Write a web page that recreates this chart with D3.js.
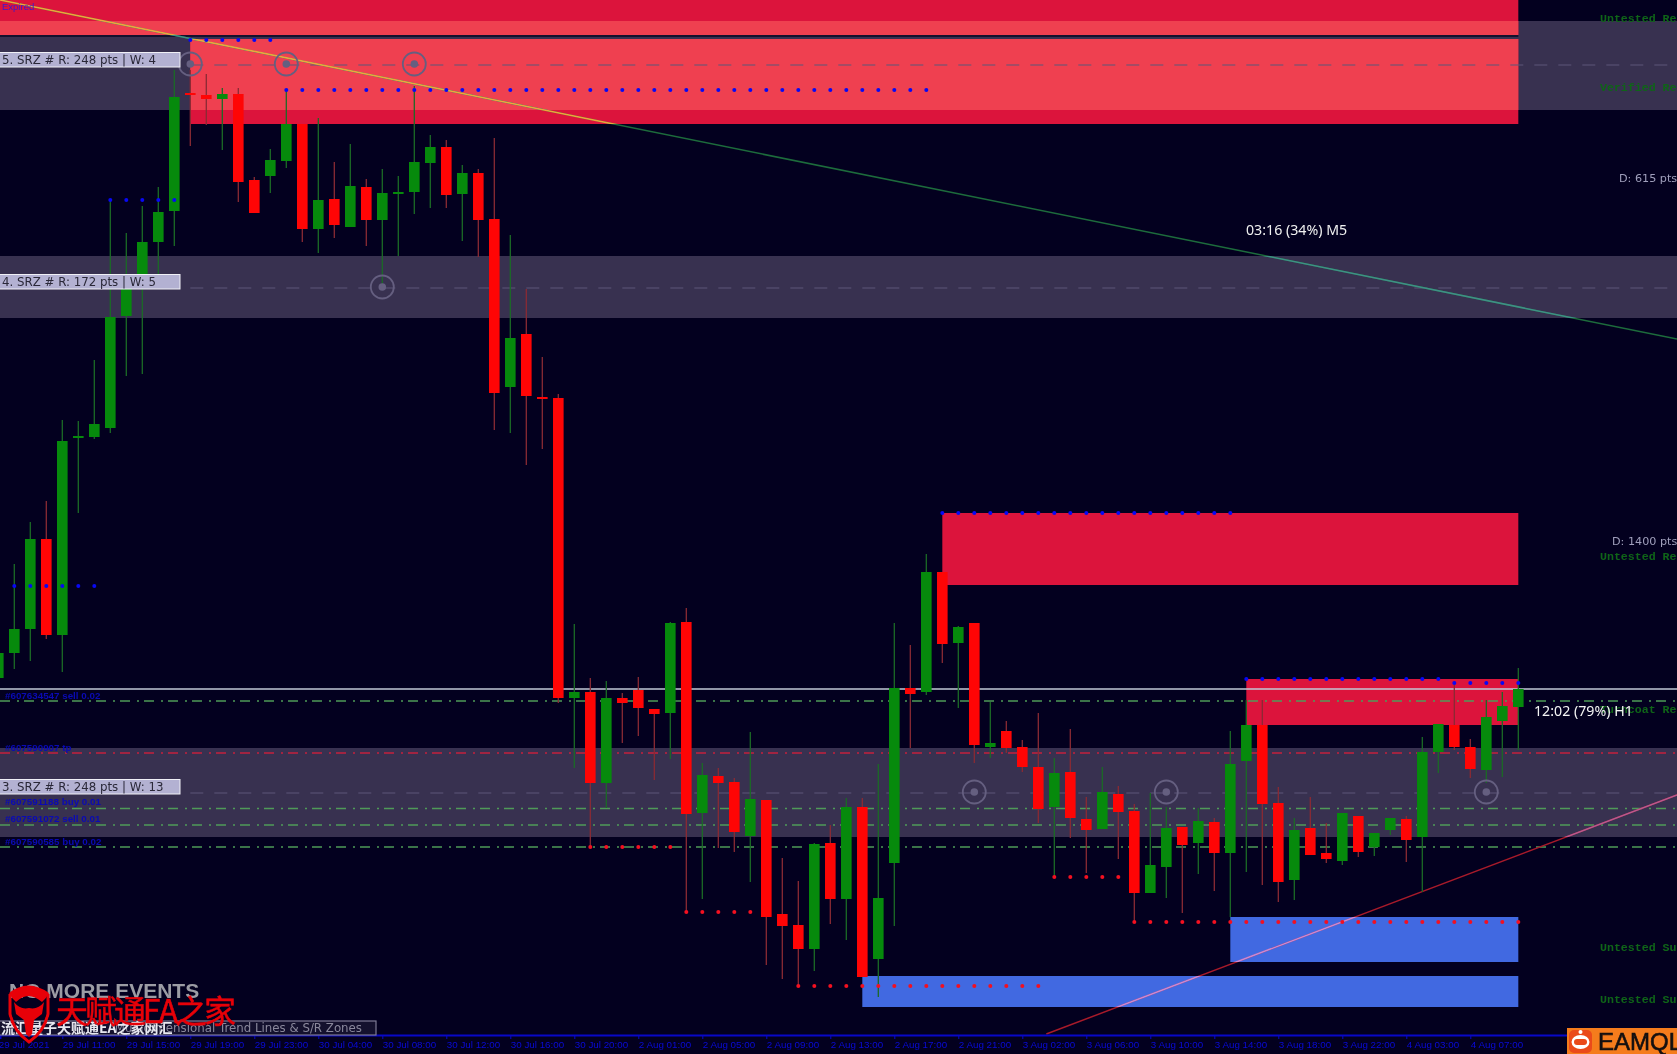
<!DOCTYPE html>
<html>
<head>
<meta charset="utf-8">
<title>XAUUSD H1 zones</title>
<script src="https://cdn.jsdelivr.net/npm/d3@7/dist/d3.min.js"></script>
<style>
html,body{margin:0;padding:0;background:#03001f;overflow:hidden}
svg{display:block;filter:blur(0.55px)}
</style>
</head>
<body>
<svg id="chart" width="1677" height="1054"></svg>
<script>
// ---- Candle data (chart levels) ----
const open  = [422,447,471,561,465,662,663,672,784,820,858,889,1007,1005,1001,1006,920,924,939,976,871,901,873,913,880,906,908,937,953,906,927,881,713,766,703,702,402,408,317,402,410,391,387,478,287,324,318,264,300,186,175,151,257,201,293,141,237,412,408,528,457,477,353,369,353,333,293,328,281,271,306,289,207,233,273,257,278,247,339,375,297,220,272,247,239,284,253,270,281,263,348,375,353,330,379,393];
const high  = [448,536,578,599,680,679,740,900,867,894,913,1030,1030,1026,1012,1012,923,951,1010,976,982,938,956,921,931,924,1014,965,960,935,931,962,865,811,743,706,476,422,419,407,423,391,478,492,337,332,322,368,300,242,219,257,275,302,302,336,477,455,546,528,474,477,398,379,360,387,342,371,303,333,314,296,307,293,273,292,282,369,400,400,313,282,303,277,287,284,267,282,284,363,376,415,361,400,408,432];
const low   = [421,431,439,461,428,587,661,667,724,726,825,854,954,975,950,898,887,907,932,858,847,862,873,854,813,844,886,892,892,859,843,670,667,635,651,397,332,253,292,357,364,320,341,188,201,252,248,218,135,121,114,129,176,160,123,103,174,352,405,437,392,337,342,347,328,277,223,262,227,271,241,178,207,202,187,226,209,183,228,215,198,200,245,237,235,243,244,265,238,208,327,350,322,317,323,350];
const close = [447,471,561,465,659,664,676,783,811,858,888,1003,1005,1001,1006,918,887,940,976,871,900,875,914,880,907,908,938,953,905,927,880,707,762,704,701,402,408,317,402,397,392,386,477,286,325,317,268,301,183,174,151,256,201,293,123,202,412,406,528,456,473,355,357,352,333,291,327,282,270,308,288,207,235,272,255,279,247,336,375,296,218,270,245,241,287,248,267,282,260,348,376,353,331,383,394,411];

// ---- Zones: level ranges and the candle index they start from ----
const greyLow   = [990,782,263];
const greyHigh  = [1079,844,352];
const redLow    = [1065,976,515,375];
const redHigh   = [1110,1061,587,421];
const redStart  = [-5,12,59,78];
const blueLow   = [138,93];
const blueHigh  = [183,124];
const blueStart = [77,54];
const zoneEnd   = 95;
const seamLevel = 1064;

// ---- Horizontal levels ----
const centreLevels = [1035,812,307];
const priceLevel   = 411;
const orderLevels  = [399,347,291.5,275,253];
const orderColours = ["#4f9a58","#c4203c","#4f9a58","#4f9a58","#4f9a58"];
const orderTexts   = ["#607634547 sell 0.02","#607590907 tp","#607591188 buy 0.01","#607591072 sell 0.01","#607590585 buy 0.02"];
const orderTextLevels = [401,349,295,278,255];

// ---- Dotted rows: first candle, last candle, level ----
const blueDotFrom  = [12,18,7,1,59,78,91];
const blueDotTo    = [17,58,11,6,77,90,95];
const blueDotLevel = [1060,1010,900,514,587,421,417];
const redDotFrom   = [37,43,50,66,71];
const redDotTo     = [42,47,65,70,95];
const redDotLevel  = [253,188,114,223,178];

// ---- Touch markers ----
const markerIdx   = [12,18,26,24,61,73,93];
const markerLevel = [1036,1036,1036,813,308,308,308];

// ---- Trend lines [idx, level] ----
const downTrend = [[0.106,1100],[104.918,761]];
const upTrend   = [[65.5,66],[104.918,305]];

// ---- Axis ----
const axisLevel = 65;
const tickIdx = d3.range(0,96,4);
const tickLabels = ["29 Jul 2021","29 Jul 11:00","29 Jul 15:00","29 Jul 19:00","29 Jul 23:00","30 Jul 04:00","30 Jul 08:00","30 Jul 12:00","30 Jul 16:00","30 Jul 20:00","2 Aug 01:00","2 Aug 05:00","2 Aug 09:00","2 Aug 13:00","2 Aug 17:00","2 Aug 21:00","3 Aug 02:00","3 Aug 06:00","3 Aug 10:00","3 Aug 14:00","3 Aug 18:00","3 Aug 22:00","4 Aug 03:00","4 Aug 07:00"];

// ---- Text labels ----
const srzLabels = ["5. SRZ # R: 248 pts | W: 4","4. SRZ # R: 172 pts | W: 5","3. SRZ # R: 248 pts | W: 13"];
const srzLevels = [1040,818,313];
const zoneNames = ["Untested Res","Verified Res","Untested Res","Turncoat Res","Untested Sup","Untested Sup"];
const zoneNameLevels = [1078,1009,540,387,149,97];
const distTexts = ["D: 615 pts","D: 1400 pts"];
const distLevels = [918,555];

const W = 1677, H = 1054;
const x = d3.scaleLinear().domain([0.106,104.918]).range([0,W]);
const y = d3.scaleLinear().domain([46,1100]).range([H,0]);
const svg = d3.select("#chart");
const defs = svg.append("defs");
const BG = "#03001f";
svg.append("rect").attr("width",W).attr("height",H).attr("fill",BG);

// zones
const greys = greyLow.map((l,i)=>({l,h:greyHigh[i]}));
const reds  = redLow.map((l,i)=>({l,h:redHigh[i],s:redStart[i]}));
const blues = blueLow.map((l,i)=>({l,h:blueHigh[i],s:blueStart[i]}));
const zx = s => Math.max(0,x(s));
svg.append("g").selectAll("rect").data(greys).join("rect")
  .attr("x",0).attr("width",W).attr("y",d=>y(d.h)).attr("height",d=>y(d.l)-y(d.h)).attr("fill","#383150");
svg.append("g").selectAll("rect").data(reds).join("rect")
  .attr("x",d=>zx(d.s)).attr("width",d=>x(zoneEnd)-zx(d.s)).attr("y",d=>y(d.h)).attr("height",d=>y(d.l)-y(d.h)).attr("fill","#dc143c");
svg.append("g").selectAll("rect").data(blues).join("rect")
  .attr("x",d=>zx(d.s)).attr("width",d=>x(zoneEnd)-zx(d.s)).attr("y",d=>y(d.h)).attr("height",d=>y(d.l)-y(d.h)).attr("fill","#4169e1");
// where a red zone and a grey zone meet, the colours combine
const overlaps = [];
reds.forEach(r=>greys.forEach(g=>{
  const h=Math.min(r.h,g.h), l=Math.max(r.l,g.l);
  if(h>l) overlaps.push({s:r.s,h,l});
}));
svg.append("g").selectAll("rect").data(overlaps).join("rect")
  .attr("x",d=>zx(d.s)).attr("width",d=>x(zoneEnd)-zx(d.s)).attr("y",d=>y(d.h)).attr("height",d=>y(d.l)-y(d.h)).attr("fill","#ef4050");
svg.append("line").attr("x1",0).attr("x2",x(zoneEnd)).attr("y1",y(seamLevel)).attr("y2",y(seamLevel))
  .attr("stroke","#14112e").attr("stroke-width",2);

// trend lines with colour change over the zones
const line = d3.line().x(d=>x(d[0])).y(d=>y(d[1]));
const clipRed = defs.append("clipPath").attr("id","clipRed");
reds.forEach(d=>clipRed.append("rect").attr("x",zx(d.s)).attr("width",x(zoneEnd)-zx(d.s)).attr("y",y(d.h)).attr("height",y(d.l)-y(d.h)));
const clipBlue = defs.append("clipPath").attr("id","clipBlue");
blues.forEach(d=>clipBlue.append("rect").attr("x",zx(d.s)).attr("width",x(zoneEnd)-zx(d.s)).attr("y",y(d.h)).attr("height",y(d.l)-y(d.h)));
const clipGrey = defs.append("clipPath").attr("id","clipGrey");
greys.forEach(d=>clipGrey.append("rect").attr("x",0).attr("width",W).attr("y",y(d.h)).attr("height",y(d.l)-y(d.h)));
function trend(pts,base,onGrey,onZone,clip){
  svg.append("path").attr("d",line(pts)).attr("stroke",base).attr("stroke-width",1.5).attr("fill","none");
  svg.append("path").attr("d",line(pts)).attr("stroke",onGrey).attr("stroke-width",1.5).attr("fill","none").attr("clip-path","url(#clipGrey)");
  svg.append("path").attr("d",line(pts)).attr("stroke",onZone).attr("stroke-width",1.6).attr("fill","none").attr("clip-path",`url(#${clip})`);
}

// centre dashes, price line, order lines
svg.append("g").selectAll("line").data(centreLevels).join("line")
  .attr("x1",x(12)).attr("x2",W).attr("y1",d=>y(d)).attr("y2",d=>y(d))
  .attr("stroke","#5c5678").attr("stroke-width",1.2).attr("stroke-dasharray","13 11");
svg.append("line").attr("x1",0).attr("x2",W).attr("y1",y(priceLevel)).attr("y2",y(priceLevel))
  .attr("stroke","#c2c8d6").attr("stroke-width",1.5);
svg.append("g").selectAll("line").data(orderLevels).join("line")
  .attr("x1",0).attr("x2",W).attr("y1",d=>y(d)).attr("y2",d=>y(d))
  .attr("stroke",(d,i)=>orderColours[i]).attr("stroke-width",1.4).attr("stroke-dasharray","10 7 2 5");

trend(downTrend,"#1d6b3c","#3f8f86","#f0a43c","clipRed");
trend(upTrend,"#a81a2a","#b85a90","#c58ad8","clipBlue");

// candles
const candles = open.map((o,i)=>({i,o,h:high[i],l:low[i],c:close[i],up:close[i]>=o}));
const cg = svg.append("g");
cg.selectAll("line").data(candles).join("line")
  .attr("x1",d=>x(d.i)).attr("x2",d=>x(d.i)).attr("y1",d=>y(d.h)).attr("y2",d=>y(d.l))
  .attr("stroke",d=>d.up?"#1c6a26":"#8a2a34").attr("stroke-width",1.3);
cg.selectAll("rect").data(candles).join("rect")
  .attr("x",d=>x(d.i)-5.3).attr("width",10.6)
  .attr("y",d=>y(Math.max(d.o,d.c))).attr("height",d=>Math.max(2,Math.abs(y(d.o)-y(d.c))))
  .attr("fill",d=>d.up?"#068a0c":"#ff0505");

// dotted rows
function dots(from,to,lev,colour){
  const pts=[];
  from.forEach((f,k)=>d3.range(f,to[k]+1).forEach(i=>pts.push([i,lev[k]])));
  svg.append("g").selectAll("circle").data(pts).join("circle")
    .attr("cx",d=>x(d[0])).attr("cy",d=>y(d[1])).attr("r",2).attr("fill",colour);
}
dots(blueDotFrom,blueDotTo,blueDotLevel,"#0808f4");
dots(redDotFrom,redDotTo,redDotLevel,"#f41020");

// markers
const mk = svg.append("g").selectAll("g").data(markerIdx).join("g")
  .attr("transform",(d,i)=>`translate(${x(d)},${y(markerLevel[i])})`);
mk.append("circle").attr("r",11.5).attr("fill","none").attr("stroke","#655f80").attr("stroke-width",1.8);
mk.append("circle").attr("r",3.8).attr("fill","#655f80");

// SRZ labels
const srz = svg.append("g").selectAll("g").data(srzLabels).join("g")
  .attr("transform",(d,i)=>`translate(0,${y(srzLevels[i])})`);
srz.append("rect").attr("x",-2).attr("y",-7.5).attr("width",182).attr("height",14.5)
  .attr("fill","#b3b1d2").attr("stroke","#f0f0f6").attr("stroke-width",1);
srz.append("text").text(d=>d).attr("x",2).attr("y",4)
  .attr("font-family","DejaVu Sans").attr("font-size",11.8).attr("fill","#2a2838");

// zone names and distances
svg.append("g").selectAll("text").data(zoneNames).join("text").text(d=>d)
  .attr("x",1600).attr("y",(d,i)=>y(zoneNameLevels[i]))
  .attr("font-family","Liberation Mono").attr("font-weight","bold").attr("font-size",11.6).attr("fill","#0f6418");
svg.append("g").selectAll("text").data(distTexts).join("text").text(d=>d)
  .attr("x",(d,i)=>i?1612:1619).attr("y",(d,i)=>y(distLevels[i]))
  .attr("font-family","DejaVu Sans").attr("font-size",11.2).attr("fill","#a09fbc");

// timers
svg.append("text").text("03:16 (34%) M5").attr("x",1246).attr("y",235)
  .attr("font-family","Noto Sans").attr("font-size",14.2).attr("fill","#f0f0f0");
svg.append("text").text("12:02 (79%) H1").attr("x",1534).attr("y",716)
  .attr("font-family","Noto Sans").attr("font-size",14.2).attr("fill","#f4f4f4");

// order labels and Expired
svg.append("g").selectAll("text").data(orderTexts).join("text").text(d=>d)
  .attr("x",5).attr("y",(d,i)=>y(orderTextLevels[i]))
  .attr("font-family","Liberation Sans").attr("font-weight","bold").attr("font-size",9.8).attr("fill","#0a0ab4");
svg.append("text").text("Expired").attr("x",2).attr("y",10)
  .attr("font-family","Liberation Sans").attr("font-size",9.5).attr("fill","#3a1ad0");

// time axis
const axis = d3.axisBottom(x).tickValues(tickIdx).tickFormat((d,i)=>tickLabels[i]).tickSizeOuter(0).tickSize(4);
const ag = svg.append("g").attr("transform",`translate(0,${y(axisLevel)})`).call(axis);
ag.select(".domain").attr("stroke","#0808c8").attr("stroke-width",2);
ag.selectAll(".tick line").attr("stroke","#0808c8");
ag.selectAll(".tick text").attr("text-anchor","start").attr("x",0).attr("dy",0).attr("y",13)
  .attr("font-family","Liberation Sans").attr("font-size",9.8).attr("fill","#0a0ad8");

// bottom-left panel and watermark
svg.append("text").text("NO MORE EVENTS").attr("x",9).attr("y",998)
  .attr("font-family","Liberation Sans").attr("font-weight","bold").attr("font-size",21).attr("fill","#9c9ca4");
svg.append("rect").attr("x",-2).attr("y",1021).attr("width",378).attr("height",14).attr("fill","#14112e").attr("stroke","#7d7a95").attr("stroke-width",1.2);
svg.append("text").text("Multidimensional Trend Lines & S/R Zones").attr("x",362).attr("y",1032).attr("text-anchor","end")
  .attr("font-family","DejaVu Sans").attr("font-size",11.8).attr("fill","#8a889c");
svg.append("text").text("流汇量子天赋通EA之家网汇").attr("x",1).attr("y",1033)
  .attr("font-family","Noto Sans CJK SC").attr("font-weight","bold").attr("font-size",14).attr("fill","#e8e8f0");
const wm = svg.append("g").attr("fill","#e80008");
wm.append("path").attr("d","M9,993 Q28,978 49,993 Q46,999 42,1002 Q28,990 16,1002 Q12,999 9,993 Z");
wm.append("path").attr("fill","none").attr("stroke","#e80008").attr("stroke-width",3)
  .attr("d","M10,994 L10,1014 Q14,1032 29,1042 Q44,1032 48,1014 L48,994");
wm.append("path").attr("d","M14,1002 Q20,1010 29,1008 Q38,1010 44,1002 L42,1014 L34,1020 L32,1034 L29,1037 L26,1034 L24,1020 L16,1014 Z");
wm.append("text").text("天赋通EA之家").attr("x",56).attr("y",1023)
  .attr("font-family","Noto Sans CJK SC").attr("font-weight","normal").attr("font-size",32).attr("textLength",180).attr("stroke","#e80008").attr("stroke-width",0.5).attr("fill","#e80008");

// bottom-right badge
svg.append("rect").attr("x",1567).attr("y",1028).attr("width",110).attr("height",26).attr("fill","#f57c1c");
svg.append("rect").attr("x",1569).attr("y",1030).attr("width",23).attr("height",23).attr("rx",5).attr("fill","#ea4a1a");
svg.append("ellipse").attr("cx",1580.5).attr("cy",1042).attr("rx",9).attr("ry",7).attr("fill","#fff");
svg.append("rect").attr("x",1574).attr("y",1039).attr("width",13).attr("height",6).attr("rx",3).attr("fill","#ea4a1a");
svg.append("circle").attr("cx",1580.5).attr("cy",1032).attr("r",2).attr("fill","#fff");
svg.append("text").text("EAMQL").attr("x",1598).attr("y",1050)
  .attr("font-family","Liberation Sans").attr("font-size",24).attr("stroke","#151010").attr("stroke-width",0.6).attr("fill","#151010");
</script>
</body>
</html>
